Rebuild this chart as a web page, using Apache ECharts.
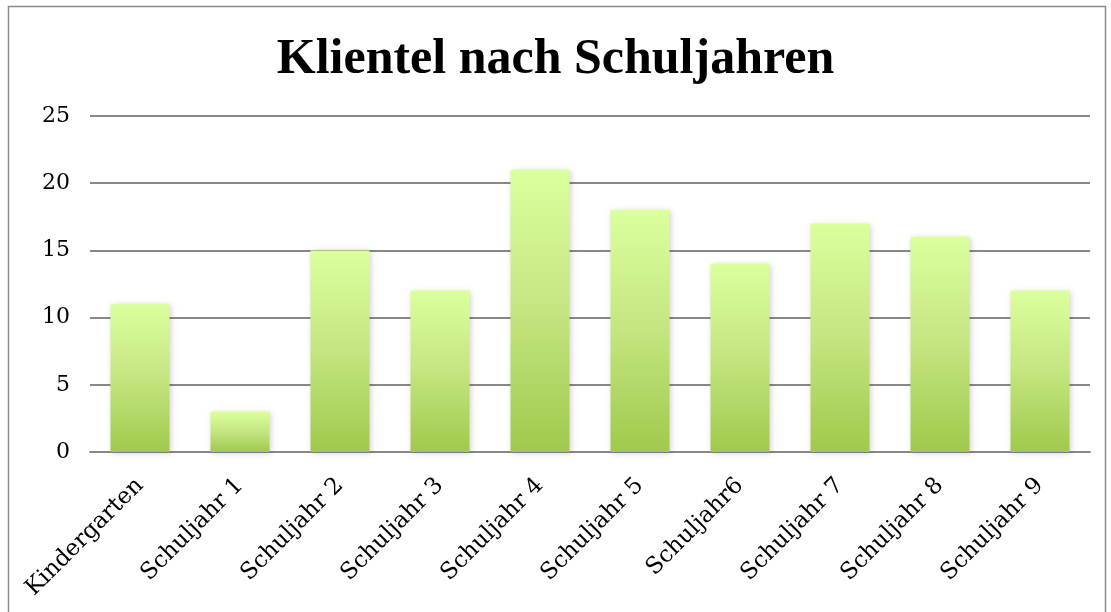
<!DOCTYPE html>
<html>
<head>
<meta charset="utf-8">
<script src="https://cdn.jsdelivr.net/npm/echarts@6/dist/echarts.min.js"></script>
<style>
  html, body { margin: 0; padding: 0; background: #fff; }
  #chart { width: 1111px; height: 612px; }
</style>
</head>
<body>
<div id="chart"></div>
<script>
var categories = ['Kindergarten', 'Schuljahr 1', 'Schuljahr 2', 'Schuljahr 3', 'Schuljahr 4',
    'Schuljahr 5', 'Schuljahr6', 'Schuljahr 7', 'Schuljahr 8', 'Schuljahr 9'];
var values = [11, 3, 15, 12, 21, 18, 14, 17, 16, 12];
var yTicks = [0, 5, 10, 15, 20, 25];

var serif = '"Liberation Serif", "DejaVu Serif", serif';
var wideSerif = '"DejaVu Serif", "Liberation Serif", serif';

var myChart = echarts.init(document.getElementById('chart'));

var option = {
    animation: false,
    backgroundColor: '#fff',
    title: {
        text: 'Klientel nach Schuljahren',
        left: 'center',
        top: 30,
        textStyle: {
            fontFamily: serif,
            fontSize: 50,
            fontWeight: 'bold',
            color: '#000'
        }
    },
    graphic: [{
        type: 'rect',
        shape: { x: 8.5, y: 6.5, width: 1097, height: 620 },
        style: { fill: 'none', stroke: '#8a8a8a', lineWidth: 1.5 },
        silent: true
    }],
    grid: {
        left: 90,
        right: 21,
        top: 116,
        bottom: 160
    },
    xAxis: {
        type: 'category',
        data: categories,
        axisLine: { lineStyle: { color: '#888', width: 2 } },
        axisTick: { show: false },
        axisLabel: {
            rotate: 45,
            interval: 0,
            margin: 30,
            fontFamily: wideSerif,
            fontSize: 23,
            color: '#000'
        }
    },
    yAxis: {
        type: 'value',
        min: yTicks[0],
        max: yTicks[yTicks.length - 1],
        interval: 5,
        axisLine: { show: false },
        axisTick: { show: false },
        axisLabel: {
            margin: 20,
            fontFamily: wideSerif,
            fontSize: 22,
            color: '#000'
        },
        splitLine: { lineStyle: { color: '#888', width: 2 } }
    },
    series: [{
        type: 'bar',
        data: values,
        barWidth: '59%',
        itemStyle: {
            color: new echarts.graphic.LinearGradient(0, 0, 0, 1, [
                { offset: 0, color: '#dcff9e' },
                { offset: 0.5, color: '#c4e580' },
                { offset: 1, color: '#a0c94c' }
            ]),
            shadowColor: 'rgba(0,0,0,0.18)',
            shadowBlur: 6,
            shadowOffsetX: 1,
            shadowOffsetY: 1
        }
    }]
};

myChart.setOption(option, true);
</script>
</body>
</html>
